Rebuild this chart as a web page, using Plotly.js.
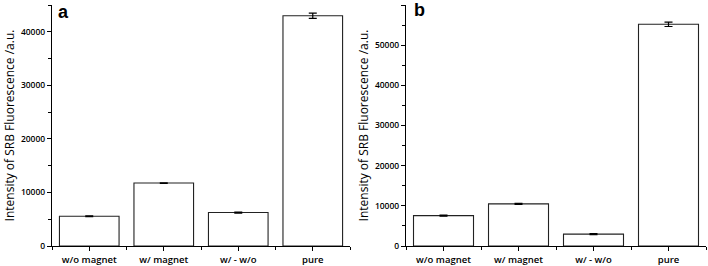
<!DOCTYPE html>
<html>
<head>
<meta charset="utf-8">
<script src="https://cdn.plot.ly/plotly-3.0.1.min.js"></script>
<style>html,body{margin:0;padding:0;background:#fff;}#chart{width:708px;height:266px;}</style>
</head>
<body>
<div id="chart"></div>
<script>
const categories = ["w/o magnet", "w/ magnet", "w/ - w/o", "pure"];
const valuesA = [5550, 11750, 6250, 43000];
const errorsA = [60, 60, 100, 500];
const valuesB = [7550, 10500, 2950, 55200];
const errorsB = [120, 120, 150, 550];
const yTitle = "Intensity of SRB Fluorescence /a.u.";
const panelLabels = ["a", "b"];

const idx = categories.map((c, i) => i);
const font = "Open Sans, DejaVu Sans, sans-serif";

function barTrace(vals, errs, xa, ya) {
  return {
    type: "bar", x: idx, y: vals, xaxis: xa, yaxis: ya, width: 0.8,
    marker: {color: "#ffffff", line: {color: "#222", width: 1.1}},
    error_y: {type: "data", array: errs, visible: true, color: "#000", thickness: 1.2, width: 4},
    hoverinfo: "skip", showlegend: false
  };
}

function xAxis(domain, anchor) {
  return {
    domain: domain, anchor: anchor, range: [-0.5, 3.5], fixedrange: true,
    tickmode: "array", tickvals: idx, ticktext: categories,
    ticks: "outside", ticklen: 4, tickwidth: 1, tickcolor: "#000",
    minor: {ticks: "outside", ticklen: 2.5, tick0: 0.5, dtick: 1, tickcolor: "#000", tickwidth: 1},
    showline: true, linecolor: "#000", linewidth: 1.1, showgrid: false, zeroline: false,
    tickfont: {family: font, size: 9.5, color: "#000", weight: 600}
  };
}

function yAxis(range, dtick, anchor) {
  return {
    range: range, anchor: anchor, fixedrange: true, dtick: dtick, tickformat: "d",
    ticks: "outside", ticklen: 4, tickwidth: 1, tickcolor: "#000",
    minor: {ticks: "outside", ticklen: 2.5, dtick: dtick / 2, tickcolor: "#000", tickwidth: 1},
    showline: true, linecolor: "#000", linewidth: 1.1, showgrid: false, zeroline: false,
    tickfont: {family: font, size: 8.5, color: "#000", weight: 600},
    title: {text: yTitle, font: {family: font, size: 12, color: "#000", weight: 500}, standoff: 3}
  };
}

const data = [barTrace(valuesA, errorsA, "x", "y"), barTrace(valuesB, errorsB, "x2", "y2")];

const layout = {
  width: 708, height: 266,
  margin: {l: 52, r: 2, t: 5, b: 20},
  paper_bgcolor: "#fff", plot_bgcolor: "#fff",
  xaxis: xAxis([0, 0.4557], "y"),
  yaxis: yAxis([0, 45000], 10000, "x"),
  xaxis2: xAxis([0.5413, 1], "y2"),
  yaxis2: yAxis([0, 60000], 10000, "x2"),
  annotations: [
    {text: "<b>" + panelLabels[0] + "</b>", xref: "x domain", yref: "y domain", x: 0.015, y: 1.02, xanchor: "left", yanchor: "top", showarrow: false, font: {family: "Liberation Sans, Arial, sans-serif", size: 18, color: "#000"}},
    {text: "<b>" + panelLabels[1] + "</b>", xref: "x2 domain", yref: "y2 domain", x: 0.02, y: 1.03, xanchor: "left", yanchor: "top", showarrow: false, font: {family: "Liberation Sans, Arial, sans-serif", size: 18, color: "#000"}}
  ]
};

Plotly.newPlot("chart", data, layout, {staticPlot: true, displayModeBar: false});
</script>
</body>
</html>
